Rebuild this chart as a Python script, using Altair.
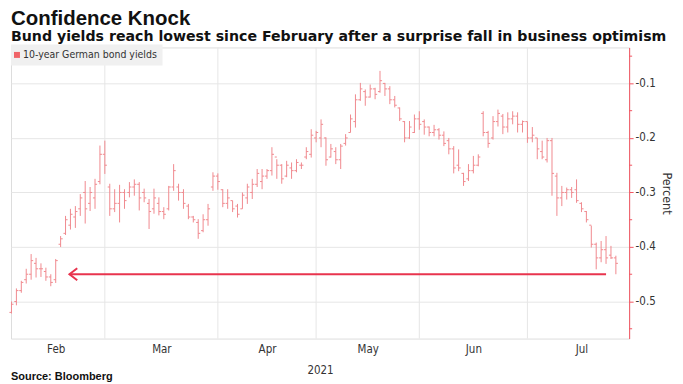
import altair as alt
import pandas as pd

# ---- data (daily bars, trading-day index) ----
day_index = list(range(124))
high = [-0.500, -0.476, -0.462, -0.440, -0.413, -0.420, -0.430, -0.438, -0.450, -0.422,
        -0.380, -0.343, -0.330, -0.325, -0.303, -0.279, -0.290, -0.275, -0.214, -0.205,
        -0.284, -0.294, -0.286, -0.294, -0.281, -0.276, -0.281, -0.293, -0.312, -0.293,
        -0.309, -0.327, -0.288, -0.248, -0.284, -0.294, -0.321, -0.343, -0.349, -0.340,
        -0.321, -0.263, -0.265, -0.294, -0.294, -0.315, -0.321, -0.300, -0.284, -0.275,
        -0.257, -0.257, -0.257, -0.217, -0.239, -0.248, -0.242, -0.245, -0.239, -0.245,
        -0.217, -0.184, -0.187, -0.166, -0.199, -0.211, -0.217, -0.211, -0.193, -0.157,
        -0.120, -0.099, -0.111, -0.102, -0.108, -0.077, -0.099, -0.105, -0.123, -0.144,
        -0.169, -0.169, -0.157, -0.151, -0.166, -0.179, -0.176, -0.182, -0.188, -0.200,
        -0.215, -0.221, -0.264, -0.248, -0.233, -0.230, -0.151, -0.187, -0.160, -0.148,
        -0.156, -0.153, -0.151, -0.153, -0.168, -0.170, -0.180, -0.200, -0.205, -0.200,
        -0.200, -0.264, -0.288, -0.291, -0.290, -0.276, -0.318, -0.334, -0.361, -0.392,
        -0.389, -0.380, -0.398, -0.416]
low = [-0.522, -0.507, -0.484, -0.467, -0.460, -0.456, -0.455, -0.462, -0.472, -0.466,
       -0.400, -0.378, -0.368, -0.365, -0.343, -0.357, -0.334, -0.330, -0.285, -0.266,
       -0.343, -0.336, -0.355, -0.330, -0.309, -0.306, -0.333, -0.318, -0.367, -0.339,
       -0.342, -0.349, -0.333, -0.297, -0.315, -0.330, -0.349, -0.355, -0.385, -0.373,
       -0.361, -0.297, -0.295, -0.327, -0.330, -0.336, -0.346, -0.330, -0.321, -0.312,
       -0.290, -0.294, -0.275, -0.269, -0.275, -0.284, -0.272, -0.275, -0.263, -0.257,
       -0.239, -0.236, -0.208, -0.217, -0.251, -0.236, -0.248, -0.257, -0.214, -0.190,
       -0.181, -0.132, -0.141, -0.126, -0.129, -0.117, -0.123, -0.138, -0.144, -0.169,
       -0.208, -0.202, -0.191, -0.185, -0.194, -0.197, -0.197, -0.203, -0.215, -0.230,
       -0.265, -0.261, -0.288, -0.279, -0.265, -0.252, -0.197, -0.218, -0.203, -0.179,
       -0.193, -0.190, -0.175, -0.190, -0.190, -0.209, -0.208, -0.239, -0.239, -0.245,
       -0.306, -0.343, -0.325, -0.313, -0.310, -0.319, -0.336, -0.355, -0.401, -0.441,
       -0.428, -0.431, -0.422, -0.450]
open_ = [-0.520, -0.500, -0.480, -0.460, -0.450, -0.430, -0.440, -0.445, -0.455, -0.460,
         -0.395, -0.375, -0.360, -0.345, -0.330, -0.300, -0.320, -0.310, -0.280, -0.230,
         -0.290, -0.330, -0.320, -0.300, -0.300, -0.290, -0.285, -0.300, -0.320, -0.330,
         -0.320, -0.335, -0.330, -0.290, -0.290, -0.300, -0.325, -0.345, -0.355, -0.370,
         -0.350, -0.290, -0.270, -0.295, -0.320, -0.315, -0.325, -0.330, -0.310, -0.300,
         -0.285, -0.280, -0.270, -0.260, -0.235, -0.250, -0.270, -0.255, -0.260, -0.250,
         -0.235, -0.230, -0.200, -0.200, -0.200, -0.235, -0.225, -0.240, -0.210, -0.190,
         -0.170, -0.130, -0.115, -0.125, -0.110, -0.115, -0.100, -0.110, -0.130, -0.145,
         -0.170, -0.200, -0.190, -0.165, -0.170, -0.180, -0.190, -0.185, -0.195, -0.205,
         -0.220, -0.250, -0.265, -0.275, -0.260, -0.250, -0.155, -0.190, -0.200, -0.170,
         -0.160, -0.180, -0.165, -0.160, -0.175, -0.170, -0.200, -0.200, -0.225, -0.240,
         -0.205, -0.270, -0.310, -0.300, -0.295, -0.295, -0.320, -0.335, -0.360, -0.395,
         -0.420, -0.405, -0.415, -0.420]
close = [-0.505, -0.480, -0.465, -0.450, -0.425, -0.440, -0.440, -0.455, -0.465, -0.425,
         -0.385, -0.350, -0.340, -0.335, -0.310, -0.330, -0.300, -0.285, -0.230, -0.250,
         -0.330, -0.320, -0.300, -0.315, -0.290, -0.285, -0.310, -0.310, -0.335, -0.310,
         -0.335, -0.340, -0.290, -0.260, -0.300, -0.320, -0.345, -0.350, -0.375, -0.350,
         -0.330, -0.270, -0.280, -0.320, -0.310, -0.330, -0.340, -0.305, -0.290, -0.285,
         -0.265, -0.270, -0.260, -0.230, -0.250, -0.275, -0.250, -0.260, -0.245, -0.250,
         -0.225, -0.195, -0.190, -0.175, -0.240, -0.220, -0.240, -0.215, -0.200, -0.165,
         -0.130, -0.110, -0.125, -0.110, -0.120, -0.095, -0.110, -0.130, -0.140, -0.165,
         -0.200, -0.180, -0.165, -0.175, -0.180, -0.190, -0.185, -0.195, -0.210, -0.220,
         -0.255, -0.255, -0.280, -0.260, -0.250, -0.235, -0.190, -0.210, -0.170, -0.155,
         -0.180, -0.165, -0.160, -0.175, -0.170, -0.200, -0.195, -0.220, -0.235, -0.205,
         -0.265, -0.310, -0.300, -0.295, -0.300, -0.315, -0.330, -0.350, -0.395, -0.420,
         -0.405, -0.420, -0.420, -0.430]

month_names = ["Feb", "Mar", "Apr", "May", "Jun", "Jul"]
month_centre_index = [9, 30.5, 52, 72.5, 94, 116]
month_start_index = [19, 42, 62, 83, 105]
y_major_ticks = [-0.5, -0.4, -0.3, -0.2, -0.1]
y_minor_ticks = [-0.55, -0.45, -0.35, -0.25, -0.15, -0.05]

arrow_level = [-0.45]
arrow_tip_index = [11.8]
arrow_tail_index = [121]

TITLE = "Confidence Knock"
SUBTITLE = "Bund yields reach lowest since February after a surprise fall in business optimism"
LEGEND = "10-year German bond yields"
SOURCE = "Source: Bloomberg"

# ---- styling ----
W, H = 620, 292
BAR = "#f08a8f"
AXIS_RED = "#f25561"
ARROW = "#e8344e"
TXT = "#333333"
FONT = "Liberation Sans"
COND = "DejaVu Sans Condensed"

xscale = alt.Scale(domain=[-0.1, 125.7], nice=False, zero=False)
yscale = alt.Scale(domain=[-0.568, -0.034], nice=False, zero=False)

names_js = "[" + ",".join("'%s'" % m for m in month_names) + "]"
centres_js = "[" + ",".join(str(c) for c in month_centre_index) + "]"

xaxis = alt.Axis(values=month_centre_index,
                 labelExpr=f"{names_js}[indexof({centres_js}, datum.value)]",
                 ticks=False, domain=False, grid=False, labelOverlap=False,
                 labelColor=TXT, labelFontSize=11.5, labelFont=COND, labelPadding=5,
                 title="2021", titleFont=COND, titleFontSize=11.5, titleFontWeight="normal",
                 titleColor=TXT, titlePadding=10)

yaxis = alt.Axis(orient="right", values=y_major_ticks,
                 labelExpr="'-0.' + abs(round(datum.value*10))",
                 labelOverlap=False,
                 domainColor=AXIS_RED, tickColor=AXIS_RED, tickSize=4,
                 labelColor=TXT, labelFontSize=11.5, labelFont=COND,
                 labelPadding=2,
                 title="Percent", titleColor=TXT, titleFontSize=12.5, titleFont=COND,
                 titleFontWeight="normal", titlePadding=4,
                 grid=True, gridColor="#e6e6e6")

ohlc = pd.DataFrame({"k": day_index, "high": high, "low": low,
                     "open": open_, "close": close})

grid = alt.Chart(pd.DataFrame({"m": month_start_index})).mark_rule(
    color="#e6e6e6", strokeWidth=1).encode(x=alt.X("m:Q", scale=xscale))

minor = alt.Chart(pd.DataFrame({"t": y_minor_ticks})).mark_rule(
    color=AXIS_RED, strokeWidth=1).encode(
    x=alt.value(W), x2=alt.value(W + 3), y=alt.Y("t:Q", scale=yscale))

hl = alt.Chart(ohlc).mark_rule(color=BAR, strokeWidth=1).encode(
    x=alt.X("k:Q", scale=xscale, axis=xaxis),
    y=alt.Y("low:Q", scale=yscale, axis=yaxis),
    y2="high:Q")

opens = alt.Chart(ohlc).transform_calculate(kl="datum.k - 0.42").mark_rule(
    color=BAR, strokeWidth=1).encode(
    x=alt.X("kl:Q", scale=xscale), x2="k:Q", y=alt.Y("open:Q", scale=yscale))

closes = alt.Chart(ohlc).transform_calculate(kr="datum.k + 0.42").mark_rule(
    color=BAR, strokeWidth=1).encode(
    x=alt.X("k:Q", scale=xscale), x2="kr:Q", y=alt.Y("close:Q", scale=yscale))

arrow_df = pd.DataFrame({"tip": arrow_tip_index, "tail": arrow_tail_index, "lvl": arrow_level})
arrow_line = alt.Chart(arrow_df).mark_rule(color=ARROW, strokeWidth=2).encode(
    x=alt.X("tip:Q", scale=xscale), x2="tail:Q", y=alt.Y("lvl:Q", scale=yscale))
arrow_head = alt.Chart(arrow_df).mark_point(
    shape="M1.3,-1L0,0L1.3,1", filled=False, size=144, strokeWidth=2,
    color=ARROW, opacity=1).encode(
    x=alt.X("tip:Q", scale=xscale), y=alt.Y("lvl:Q", scale=yscale))

one = pd.DataFrame({"a": [0]})
legend_box = alt.Chart(one).mark_rect(color="#f0f0f0").encode(
    x=alt.value(0), x2=alt.value(152), y=alt.value(-3), y2=alt.value(18))
legend_sq = alt.Chart(one).mark_square(color="#f06468", size=36, opacity=1).encode(
    x=alt.value(6), y=alt.value(7.5))
legend_txt = alt.Chart(one).mark_text(text=LEGEND, align="left", baseline="middle",
                                      font=COND, fontSize=10.5, color=TXT).encode(
    x=alt.value(12), y=alt.value(8))

title_txt = alt.Chart(one).mark_text(text=TITLE, align="left", baseline="alphabetic",
                                     font=FONT, fontSize=20.5, fontWeight="bold",
                                     color="#111111").encode(
    x=alt.value(0), y=alt.value(-23))
subtitle_txt = alt.Chart(one).mark_text(text=SUBTITLE, align="left", baseline="alphabetic",
                                        font="DejaVu Sans", fontSize=14.2, fontWeight="bold",
                                        color="#111111").encode(
    x=alt.value(0), y=alt.value(-6.5))
source_txt = alt.Chart(one).mark_text(text=SOURCE, align="left", baseline="alphabetic",
                                      font=FONT, fontSize=11, fontWeight="bold",
                                      color="#111111").encode(
    x=alt.value(0), y=alt.value(H + 42))

chart = alt.layer(
    grid, minor, hl, opens, closes, arrow_line, arrow_head,
    legend_box, legend_sq, legend_txt, title_txt, subtitle_txt, source_txt
).properties(
    width=W, height=H, padding={"left": 0, "top": 0, "right": 2, "bottom": 0}
).configure_view(stroke=None).configure(background="white")

chart.save("out.html", embed_options={"renderer": "svg", "actions": False})
